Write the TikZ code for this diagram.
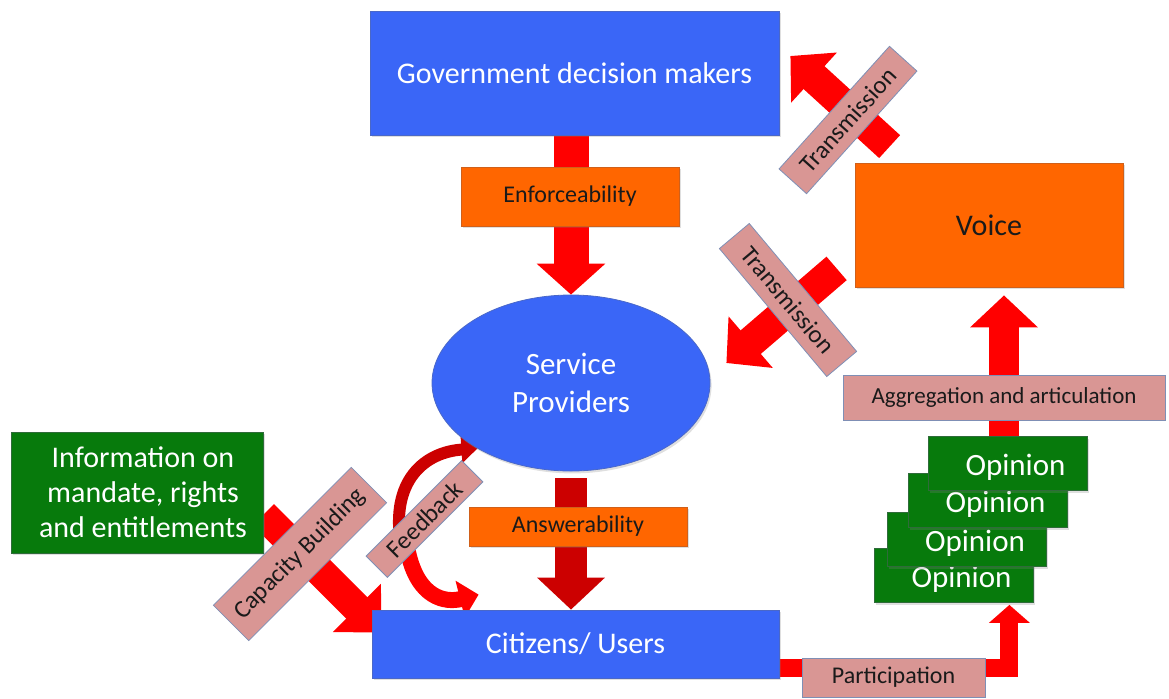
\documentclass[tikz,border=0pt]{standalone}
\usepackage{fontspec}
\setmainfont{Carlito}
\usepackage{xcolor}
\usetikzlibrary{arrows.meta, calc, shapes.geometric, shadows}
\definecolor{govblue}{HTML}{3A66F7}
\definecolor{edgeblue}{HTML}{4A68C8}
\definecolor{orng}{HTML}{FF6600}
\definecolor{orngedge}{HTML}{D0601A}
\definecolor{grn}{HTML}{077A0C}
\definecolor{grnedge}{HTML}{2F6B3A}
\definecolor{rose}{HTML}{D99694}
\definecolor{roseedge}{HTML}{7F8FB5}
\definecolor{arrred}{HTML}{FF0000}
\definecolor{darkred}{HTML}{CC0000}
\definecolor{ink}{HTML}{1A1A1A}
\pgfdeclarelayer{back}
\pgfsetlayers{back,main}
\newcommand{\fsz}[1]{\fontsize{#1}{1.2\dimexpr#1\relax}\selectfont}

\tikzset{
  box/.style={rectangle, inner sep=0pt, align=center,
    drop shadow={shadow xshift=0.8pt, shadow yshift=-1.2pt, opacity=0.25}},
  bluebox/.style={box, fill=govblue, draw=edgeblue, text=white},
  orangebox/.style={box, fill=orng, draw=orngedge, text=ink},
  greenbox/.style={box, fill=grn, draw=grnedge, text=white},
  tag/.style={rectangle, inner sep=0pt, fill=rose, draw=roseedge, text=ink,
    font=\fsz{12.5pt}},
  bigarrow/.style={draw=arrred, line width=16pt, -{Triangle[length=16pt, width=33pt]}},
  thinarrow/.style={draw=arrred, line width=9pt, line join=miter,
    -{Triangle[length=9pt, width=20pt]}},
}

\begin{document}
\begin{tikzpicture}[x=0.5pt, y=-0.5pt]
  \useasboundingbox (0,0) rectangle (1169,698);

  % main boxes
  \node[bluebox, minimum width=204.5pt, minimum height=62pt, font=\fsz{15pt}]
    (gov) at (574.5,73) {Government decision makers};
  \node[ellipse, fill=govblue, draw=edgeblue, text=white, inner sep=0pt, align=center,
    minimum width=139pt, minimum height=88pt, font=\fsz{15.5pt},
    drop shadow={shadow xshift=0.8pt, shadow yshift=-1.2pt, opacity=0.25}]
    (sp) at (571,383) {Service\\Providers};
  \node[bluebox, minimum width=203.5pt, minimum height=34pt, font=\fsz{15pt}]
    (cit) at (575.5,644) {Citizens/ Users};
  \node[greenbox, minimum width=126pt, minimum height=60.5pt,
    font=\fontsize{15pt}{17.5pt}\selectfont]
    (info) at (137,492.5) {\hspace*{6pt}Information on\\\hspace*{6pt}mandate, rights\\\hspace*{6pt}and entitlements};
  \node[orangebox, minimum width=134pt, minimum height=62pt, font=\fsz{15pt}]
    (voice) at (989,225) {Voice};

  % opinions, the upper ones lie on top
  \foreach \nm/\px/\py in {op4/953.5/575.5, op3/967/539.5, op2/987.5/500.5, op1/1007.5/463.5}{
    \node[greenbox, minimum width=79.5pt, minimum height=27pt, font=\fsz{15.5pt},
      text height=15pt, text depth=3pt]
      (\nm) at (\px,\py) {\hspace*{8pt}Opinion};
  }

  % labels sitting on the arrows
  \node[orangebox, minimum width=109pt, minimum height=29.5pt, font=\fsz{12pt}]
    (enf) at (570,196.5) {Enforceability};
  \node[orangebox, minimum width=109pt, minimum height=19.5pt, font=\fsz{12pt}]
    (ans) at (578,526.5) {Answerability};
  \node[tag, minimum width=97.5pt, minimum height=25pt, rotate=45]
    (capb) at (300,554) {Capacity Building};
  \node[tag, minimum width=67.5pt, minimum height=15pt, rotate=45]
    (fb) at (424.5,519) {Feedback};
  \node[tag, minimum width=82.5pt, minimum height=18.5pt, rotate=48]
    (trup) at (848,120) {Transmission};
  \node[tag, minimum width=83.5pt, minimum height=19.5pt, rotate=-50]
    (trlow) at (788,300) {Transmission};
  \node[tag, minimum width=161pt, minimum height=22.5pt, font=\fsz{11.5pt}]
    (agg) at (1004,397.5) {Aggregation and articulation};
  \node[tag, minimum width=91.5pt, minimum height=19.5pt, font=\fsz{12pt}]
    (part) at (893.5,677.5) {Participation};

  \coordinate (fbup) at (401,545);
  \coordinate (fblow) at (408,552);

  \begin{pgfonlayer}{back}
    \draw[bigarrow, line width=17.5pt, -{Triangle[length=15.5pt, width=33.5pt]}]
      (gov.south -| sp.north) -- (sp.north);
    \draw[bigarrow, draw=darkred, shorten <=3.5pt] (sp.south) -- (sp.south |- cit.north);
    \draw[bigarrow, line width=15pt, -{Triangle[length=17.5pt, width=33pt]}]
      (info.-10) -- ($(cit.north west)+(10,23)$);
    \draw[bigarrow, line width=15.5pt] ($(voice.north west)+(35,-16)$) -- ($(gov.east)+(11,-17)$);
    \draw[bigarrow, line width=15.5pt] ($(voice.south west)+(-18,-19)$) -- ($(sp.east)+(16,-20)$);
    \draw[bigarrow, line width=15pt, shorten >=4pt] (op1.north -| agg) -- (voice.south -| agg);
    \draw[thinarrow] ($(cit.south east)+(0,-10)$) -| ($(op4.south east)+(-24,2)$);
    % feedback loop
    \draw[draw=darkred, line width=6pt, -{Triangle[length=8pt, width=13pt]}]
      (fbup) .. controls (390,480) and (425,452) .. (sp.215);
    \draw[draw=arrred, line width=8pt, -{Triangle[length=9.5pt, width=18.5pt]}]
      (fblow) .. controls (418,598) and (445,603) .. ($(cit.north west)+(107,-15)$);
  \end{pgfonlayer}
\end{tikzpicture}
\end{document}
